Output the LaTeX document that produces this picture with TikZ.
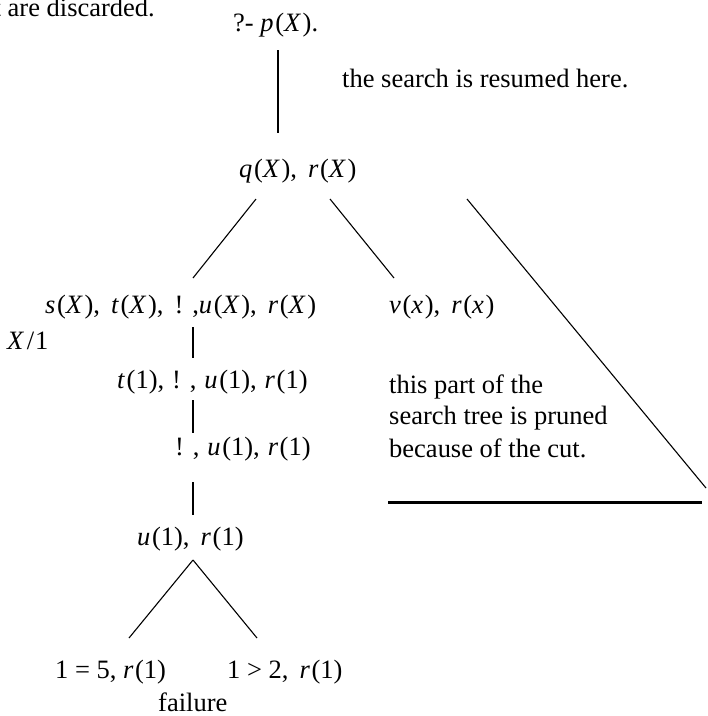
\documentclass[tikz,border=0pt]{standalone}
\usepackage{fontspec}
\setmainfont{Liberation Serif}
\newcommand\vv[1]{\textit{#1}\kern1.6pt}
\newcommand\cms{,\hspace{0.42em}}
\newcommand\cmt{,\hspace{0.3em}}
\begin{document}
\begin{tikzpicture}[x=1pt,y=-1pt,
  lbl/.style={anchor=base west,inner sep=0pt,font=\fontsize{26.5}{32}\selectfont},
  edgeln/.style={line width=1.1pt},
  stem/.style={line width=2.6pt},
  cutline/.style={line width=3pt}]
\useasboundingbox (0,0) rectangle (708,716);
% texts
\node[lbl,anchor=base east] (disc) at (155,16) {t are discarded.};
\node[lbl] (goal) at (233,31) {?- \vv{p}(\vv{X}).};
\node[lbl] (resumed) at (342,87) {the search is resumed here.};
\node[lbl] (q) at (239,177) {\vv{q}(\vv{X})\cms\vv{r}(\vv{X})};
\node[lbl] (s) at (45,313) {\vv{s}(\vv{X})\cms\vv{t}(\vv{X})\cms! ,\vv{u}(\vv{X})\cms\vv{r}(\vv{X})};
\node[lbl] (v) at (389,313) {\vv{v}(\vv{x})\cms\vv{r}(\vv{x})};
\node[lbl] (subst) at (7,349) {\vv{X}\kern1pt/\kern1pt1};
\node[lbl] (t) at (117,388) {\vv{t}(1)\cmt! \cmt\vv{u}(1)\cmt\vv{r}(1)};
\node[lbl] (cut) at (175,455) {! \cmt\vv{u}(1)\cmt\vv{r}(1)};
\node[lbl] (p1) at (389,393) {this part of the};
\node[lbl] (p2) at (389,424) {search tree is pruned};
\node[lbl] (p3) at (389,457) {because of the cut.};
\node[lbl] (u) at (137,545) {\vv{u}(1)\cms\vv{r}(1)};
\node[lbl] (f1) at (55,678) {1 = 5, \vv{r}(1)};
\node[lbl] (f2) at (227,678) {1 > 2\cms\vv{r}(1)};
\node[lbl] (fail) at (158,711) {failure};
% connector ends
\coordinate (g1) at (278,50);  \coordinate (q0) at (278,133);
\coordinate (qa) at (256,199); \coordinate (sa) at (193,278);
\coordinate (qb) at (330,199); \coordinate (va) at (394,278);
\coordinate (qc) at (467,199); \coordinate (pr) at (706,488);
\coordinate (cl) at (388,502); \coordinate (cr) at (702,502);
\coordinate (s1) at (193,327); \coordinate (t0) at (193,358);
\coordinate (t1) at (193,400); \coordinate (c0) at (193,433);
\coordinate (c1) at (193,482); \coordinate (u0) at (193,515);
\coordinate (ua) at (193,560); \coordinate (fa) at (129,638);
\coordinate (fb) at (257,638);
% connectors
\draw[stem] (g1) -- (q0);
\draw[edgeln] (qa) -- (sa);
\draw[edgeln] (qb) -- (va);
\draw[edgeln] (qc) -- (pr);
\draw[cutline] (cl) -- (cr);
\draw[stem] (s1) -- (t0);
\draw[stem] (t1) -- (c0);
\draw[stem] (c1) -- (u0);
\draw[edgeln] (ua) -- (fa);
\draw[edgeln] (ua) -- (fb);
\end{tikzpicture}
\end{document}
